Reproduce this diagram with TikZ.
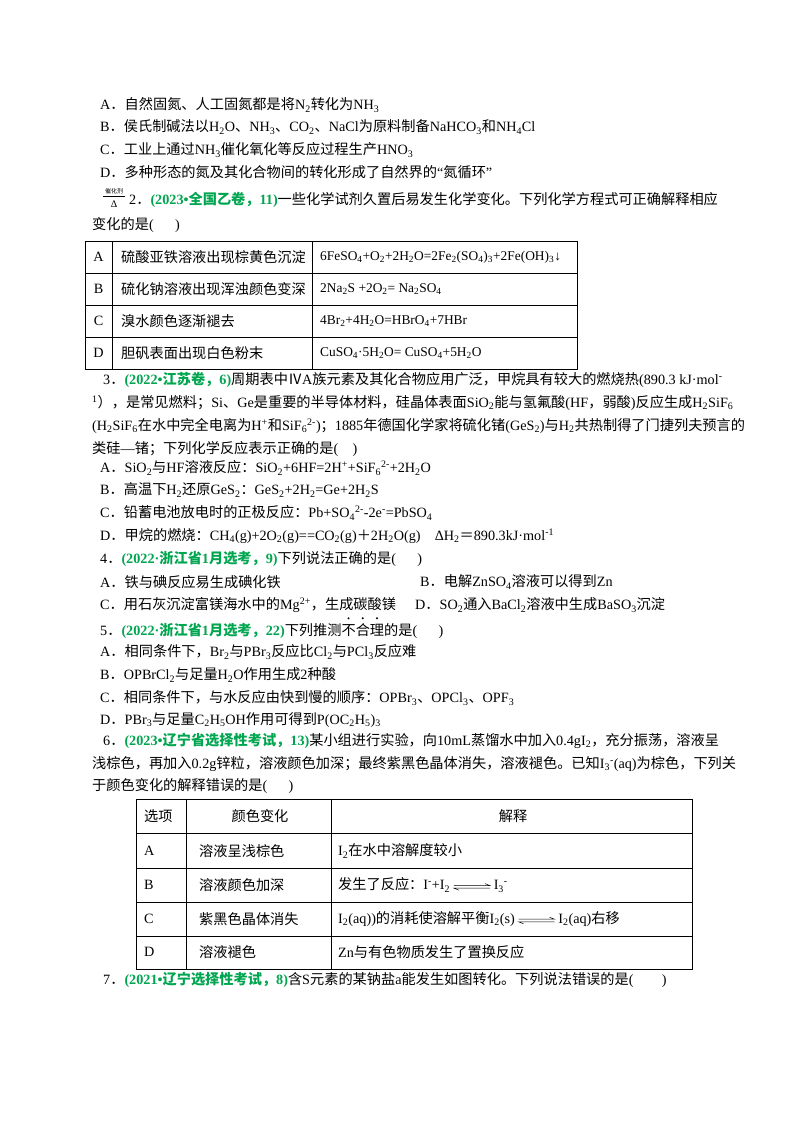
\documentclass[tikz,border=0pt]{standalone}
\usepackage{fontspec}
\setmainfont{Liberation Serif}
\newfontfamily\cjkfont{Noto Sans CJK SC}
\XeTeXinterchartokenstate=1
\newXeTeXintercharclass\mycjk
\count255="4E00
\loop\XeTeXcharclass\count255=\mycjk\advance\count255 1 \ifnum\count255<"A000 \repeat
\count255="3000
\loop\XeTeXcharclass\count255=\mycjk\advance\count255 1 \ifnum\count255<"3040 \repeat
\count255="FF00
\loop\XeTeXcharclass\count255=\mycjk\advance\count255 1 \ifnum\count255<"FFF0 \repeat
\count255="2160
\loop\XeTeXcharclass\count255=\mycjk\advance\count255 1 \ifnum\count255<"2170 \repeat
\XeTeXinterchartoks 0 \mycjk = {\cjkfont}
\XeTeXinterchartoks 4095 \mycjk = {\cjkfont}
\XeTeXinterchartoks \mycjk 0 = {\rmfamily}
\XeTeXinterchartoks \mycjk 4095 = {\rmfamily}
\newcommand\Ss[1]{\textsubscript{#1}}
\newcommand\Sp[1]{\textsuperscript{#1}}
\newcommand\dt{\rlap{\tikz[x=1pt,y=1pt,baseline=0pt]{\path (0,0) rectangle (14,1); \fill[black] (7,17.5) circle (1.1);}}}
\definecolor{src}{RGB}{0,165,80}
\newcommand\src[1]{{\color{src}\bfseries #1}}
\newcommand\eqarr{\tikz[x=1pt,y=1pt,baseline=-3pt,line width=0.5pt]{\draw (0,1.3)--(36,1.3)--(31,3.3); \draw (36,-1.3)--(0,-1.3)--(5,-3.3);}}
\begin{document}
\begin{tikzpicture}[x=1pt,y=-1pt,
  t/.style={anchor=west,inner sep=0pt,font=\fontsize{14.2}{16}\selectfont},
  tc/.style={t,anchor=center},
  grid/.style={line width=0.8pt}]
\useasboundingbox (0,0) rectangle (800,1132);
\fill[white] (0,0) rectangle (800,1132);
\node[t] (l1) at (100,105) {A．自然固氮、人工固氮都是将N\Ss{2}转化为NH\Ss{3}};
\node[t] (l2) at (100,127) {B．侯氏制碱法以H\Ss{2}O、NH\Ss{3}、CO\Ss{2}、NaCl为原料制备NaHCO\Ss{3}和NH\Ss{4}Cl};
\node[t] (l3) at (100,150) {C．工业上通过NH\Ss{3}催化氧化等反应过程生产HNO\Ss{3}};
\node[t] (l4) at (100,172) {D．多种形态的氮及其化合物间的转化形成了自然界的“氮循环”};
% icon
\node[inner sep=0pt,font=\fontsize{6}{6}\selectfont] (ic) at (114,191) {催化剂};
\draw[line width=0.6pt] (103,196) -- (125,196);
\node[inner sep=0pt,font=\fontsize{10}{10}\selectfont] (dl) at (114,204) {Δ};
\node[t] (q2) at (129,200) {2．\src{(2023•全国乙卷，11)}一些化学试剂久置后易发生化学变化。下列化学方程式可正确解释相应};
\node[t] (q2b) at (92,225) {变化的是(\quad\ \ )};
% table 1
\draw[grid] (85,241) rectangle (577,369);
\foreach \y in {273,305,337} \draw[grid] (85,\y) -- (577,\y);
\draw[grid] (112,241) -- (112,369);
\draw[grid] (312,241) -- (312,369);
\node[tc] (a1) at (98.5,257) {A};
\node[t] (a2) at (121,257) {硫酸亚铁溶液出现棕黄色沉淀};
\node[t,font=\fontsize{13.4}{16}\selectfont] (a3) at (320,257) {6FeSO\Ss{4}+O\Ss{2}+2H\Ss{2}O=2Fe\Ss{2}(SO\Ss{4})\Ss{3}+2Fe(OH)\Ss{3}↓};
\node[tc] (b1) at (98.5,289) {B};
\node[t] (b2) at (121,289) {硫化钠溶液出现浑浊颜色变深};
\node[t,font=\fontsize{13.4}{16}\selectfont] (b3) at (320,289) {2Na\Ss{2}S +2O\Ss{2}= Na\Ss{2}SO\Ss{4}};
\node[tc] (c1) at (98.5,321) {C};
\node[t] (c2) at (121,321) {溴水颜色逐渐褪去};
\node[t,font=\fontsize{13.4}{16}\selectfont] (c3) at (320,321) {4Br\Ss{2}+4H\Ss{2}O=HBrO\Ss{4}+7HBr};
\node[tc] (d1) at (98.5,353) {D};
\node[t] (d2) at (121,353) {胆矾表面出现白色粉末};
\node[t,font=\fontsize{13.4}{16}\selectfont] (d3) at (320,353) {CuSO\Ss{4}·5H\Ss{2}O= CuSO\Ss{4}+5H\Ss{2}O};
% Q3
\node[t] (q3) at (103,380) {3．\src{(2022•江苏卷，6)}周期表中ⅣA族元素及其化合物应用广泛，甲烷具有较大的燃烧热(890.3 kJ·mol\Sp{-}};
\node[t] (q3b) at (92,403) {\Sp{1}），是常见燃料；Si、Ge是重要的半导体材料，硅晶体表面SiO\Ss{2}能与氢氟酸(HF，弱酸)反应生成H\Ss{2}SiF\Ss{6}};
\node[t] (q3c) at (92,426) {(H\Ss{2}SiF\Ss{6}在水中完全电离为H\Sp{+}和SiF\Ss{6}\Sp{2-})；1885年德国化学家将硫化锗(GeS\Ss{2})与H\Ss{2}共热制得了门捷列夫预言的};
\node[t] (q3d) at (92,449) {类硅—锗；下列化学反应表示正确的是(\quad)};
\node[t] (q3A) at (100,468) {A．SiO\Ss{2}与HF溶液反应：SiO\Ss{2}+6HF=2H\Sp{+}+SiF\Ss{6}\Sp{2-}+2H\Ss{2}O};
\node[t] (q3B) at (100,490) {B．高温下H\Ss{2}还原GeS\Ss{2}：GeS\Ss{2}+2H\Ss{2}=Ge+2H\Ss{2}S};
\node[t] (q3C) at (100,513) {C．铅蓄电池放电时的正极反应：Pb+SO\Ss{4}\Sp{2-}-2e\Sp{-}=PbSO\Ss{4}};
\node[t] (q3D) at (100,536) {D．甲烷的燃烧：CH\Ss{4}(g)+2O\Ss{2}(g)==CO\Ss{2}(g)＋2H\Ss{2}O(g)\quad ΔH\Ss{2}＝890.3kJ·mol\Sp{-1}};
% Q4
\node[t] (q4) at (100,559) {4．\src{(2022·浙江省1月选考，9)}下列说法正确的是(\quad\ \ )};
\node[t] (q4A) at (100,582) {A．铁与碘反应易生成碘化铁};
\node[t] (q4B) at (420,582) {B．电解ZnSO\Ss{4}溶液可以得到Zn};
\node[t] (q4C) at (100,605) {C．用石灰沉淀富镁海水中的Mg\Sp{2+}，生成碳酸镁};
\node[t] (q4D) at (415,605) {D．SO\Ss{2}通入BaCl\Ss{2}溶液中生成BaSO\Ss{3}沉淀};
% Q5
\node[t] (q5) at (100,628) {5．\src{(2022·浙江省1月选考，22)}下列推测\dt 不\dt 合\dt 理的是(\quad\ \ )};
\node[t] (q5A) at (100,652) {A．相同条件下，Br\Ss{2}与PBr\Ss{3}反应比Cl\Ss{2}与PCl\Ss{3}反应难};
\node[t] (q5B) at (100,675) {B．OPBrCl\Ss{2}与足量H\Ss{2}O作用生成2种酸};
\node[t] (q5C) at (100,698) {C．相同条件下，与水反应由快到慢的顺序：OPBr\Ss{3}、OPCl\Ss{3}、OPF\Ss{3}};
\node[t] (q5D) at (100,720) {D．PBr\Ss{3}与足量C\Ss{2}H\Ss{5}OH作用可得到P(OC\Ss{2}H\Ss{5})\Ss{3}};
% Q6
\node[t] (q6) at (103,741) {6．\src{(2023•辽宁省选择性考试，13)}某小组进行实验，向10mL蒸馏水中加入0.4gI\Ss{2}，充分振荡，溶液呈};
\node[t] (q6b) at (92,764) {浅棕色，再加入0.2g锌粒，溶液颜色加深；最终紫黑色晶体消失，溶液褪色。已知I\Ss{3}\Sp{-}(aq)为棕色，下列关};
\node[t] (q6c) at (92,786) {于颜色变化的解释错误的是(\quad\ \ )};
% table 2
\draw[grid] (136,799) rectangle (692,969);
\foreach \y in {833,868,902,936} \draw[grid] (136,\y) -- (692,\y);
\draw[grid] (186,799) -- (186,969);
\draw[grid] (331,799) -- (331,969);
\node[t] (h1) at (144,816) {选项};
\node[tc] (h2) at (260,816) {颜色变化};
\node[tc] (h3) at (513,816) {解释};
\node[t] (e1) at (144,851) {A};
\node[t] (e2) at (199,851) {溶液呈浅棕色};
\node[t] (e3) at (338,851) {I\Ss{2}在水中溶解度较小};
\node[t] (f1) at (144,885) {B};
\node[t] (f2) at (199,885) {溶液颜色加深};
\node[t] (f3) at (338,885) {发生了反应：I\Sp{-}+I\Ss{2}\ \eqarr\ I\Ss{3}\Sp{-}};
\node[t] (g1) at (144,919) {C};
\node[t] (g2) at (199,919) {紫黑色晶体消失};
\node[t] (g3) at (338,919) {I\Ss{2}(aq))的消耗使溶解平衡I\Ss{2}(s)\ \eqarr\ I\Ss{2}(aq)右移};
\node[t] (k1) at (144,952) {D};
\node[t] (k2) at (199,952) {溶液褪色};
\node[t] (k3) at (338,952) {Zn与有色物质发生了置换反应};
\node[t] (q7) at (103,980) {7．\src{(2021•辽宁选择性考试，8)}含S元素的某钠盐a能发生如图转化。下列说法错误的是(\qquad)};
\end{tikzpicture}
\end{document}
